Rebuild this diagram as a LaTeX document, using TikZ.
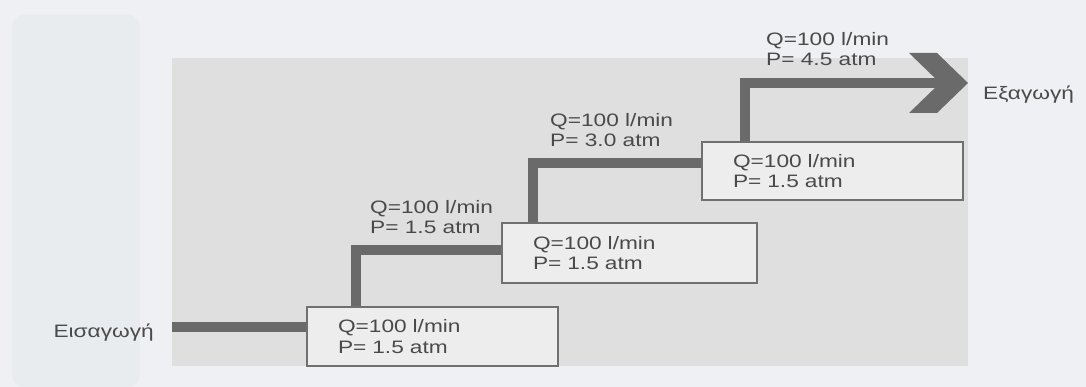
\documentclass[tikz,border=0pt]{standalone}
\usepackage{fontspec}
\setmainfont{Liberation Sans}
\newfontfamily\labfont[FakeStretch=1.26]{Liberation Sans}
\newcommand\labtxt{\labfont\fontsize{18}{20.5}\selectfont}
\definecolor{bgc}{HTML}{EEF0F3}
\definecolor{blotch}{HTML}{E9ECEF}
\definecolor{photo}{HTML}{DFDFE0}
\definecolor{boxfill}{HTML}{EDEDED}
\definecolor{boxdraw}{HTML}{707070}
\definecolor{pipec}{HTML}{6A6A6A}
\definecolor{txtc}{HTML}{4A4A4A}
\tikzset{
  pipe/.style={draw=pipec, line width=10pt, line join=miter, line cap=butt},
  stagebox/.style={draw=boxdraw, fill=boxfill, line width=1.2pt, inner xsep=31pt, inner ysep=0pt,
    align=left, font=\labtxt, text=txtc},
  flowlab/.style={inner sep=0pt, align=left, font=\labtxt, text=txtc, anchor=north west},
  endlab/.style={inner sep=0pt, font=\labtxt, text=txtc}
}
\begin{document}
\begin{tikzpicture}[x=1pt,y=-1pt]
\useasboundingbox (0,0) rectangle (1086,387);
\fill[bgc] (0,0) rectangle (1086,387);
\fill[blotch, rounded corners=12pt] (12,15) rectangle (140,387);
\fill[photo] (172,58) rectangle (968,366);

% stage boxes
\node[stagebox, text width=189pt, minimum height=59pt] (b1) at (432.5,336.5) {Q=100 l/min\\P= 1.5 atm};
\node[stagebox, text width=193pt, minimum height=60pt] (b2) at (629.5,253) {Q=100 l/min\\P= 1.5 atm};
\node[stagebox, text width=199pt, minimum height=58pt] (b3) at (832.5,171) {Q=100 l/min\\P= 1.5 atm};

% bend points
\coordinate (pin) at (172,327);
\coordinate (p1) at (356,250);
\coordinate (p2) at (533,163);
\coordinate (p3) at (745,83);
\coordinate (tip) at (968,83);
\coordinate (notch) at (940,83);

% pipes
\draw[pipe] (pin) -- (pin -| b1.west);
\draw[pipe] (p1 |- b1.north) -- (p1) -- (p1 -| b2.west);
\draw[pipe] (p2 |- b2.north) -- (p2) -- (p2 -| b3.west);
\draw[pipe] (p3 |- b3.north) -- (p3) -- ([xshift=2pt]notch);
\fill[pipec] (tip) -- ++(-31,-30) -- ++(-28,0) -- (notch) -- ++(-31,30) -- ++(28,0) -- cycle;

% flow labels
\node[flowlab] (l1) at (370,200) {Q=100 l/min\\P= 1.5 atm};
\node[flowlab] (l2) at (550,113) {Q=100 l/min\\P= 3.0 atm};
\node[flowlab] (l3) at (766,32) {Q=100 l/min\\P= 4.5 atm};

% inlet / outlet
\node[endlab, anchor=base east] (inlab) at (154,337) {Εισαγωγή};
\node[endlab, anchor=base west] (outlab) at (983,100) {Εξαγωγή};
\end{tikzpicture}
\end{document}
